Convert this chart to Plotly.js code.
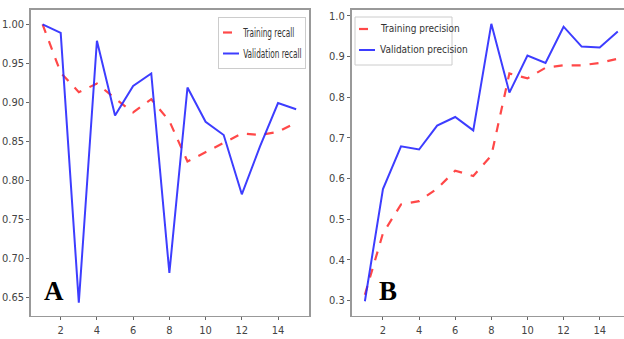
<!DOCTYPE html>
<html><head><meta charset="utf-8">
<script src="https://cdn.plot.ly/plotly-3.0.1.min.js"></script>
<style>
html,body{margin:0;padding:0;overflow:hidden;background:#fff;width:624px;height:339px}
#chart{width:632px;height:339px}
/* compact matplotlib-like legend for panel A: short sample lines, condensed text */
#chart g.legend .legendlines path{d:path("M4,0h16")}
#chart g.legend text.legendtext{transform:translate(-3px,0) scale(0.68,1)}
#chart g.legend{transform:translate(218px,17px)}
#chart g.legend rect.bg{width:87px}
</style>
</head><body><div id="chart"></div>
<script>
const epochs = [1,2,3,4,5,6,7,8,9,10,11,12,13,14,15];
const trainRecall = [1.000,0.938,0.913,0.924,0.905,0.887,0.904,0.876,0.824,0.836,0.849,0.860,0.858,0.862,0.874];
const valRecall   = [1.000,0.989,0.643,0.979,0.883,0.921,0.937,0.681,0.919,0.875,0.858,0.782,0.843,0.899,0.891];
const trainPrec   = [0.314,0.465,0.536,0.544,0.575,0.619,0.606,0.656,0.858,0.846,0.872,0.878,0.878,0.884,0.894];
const valPrec     = [0.298,0.574,0.679,0.671,0.730,0.751,0.718,0.980,0.811,0.902,0.884,0.973,0.924,0.922,0.961];
const xTicks = [2,4,6,8,10,12,14];
const yTicksA = [0.65,0.70,0.75,0.80,0.85,0.90,0.95,1.00];
const yTicksB = [0.3,0.4,0.5,0.6,0.7,0.8,0.9,1.0];
const legendNamesB = ['Training precision', 'Validation precision'];

const W = 632, H = 339;
const red = 'rgba(255,40,40,0.85)', blue = 'rgba(40,40,255,0.9)';
const traces = [
  {x: epochs, y: trainRecall, name: 'Training recall', mode: 'lines', line: {color: red, dash: 'dash', width: 2.2}, xaxis: 'x', yaxis: 'y', legendgroup: 'a1', showlegend: true},
  {x: epochs, y: valRecall, name: 'Validation recall', mode: 'lines', line: {color: blue, width: 2}, xaxis: 'x', yaxis: 'y', legendgroup: 'a2', showlegend: true},
  {x: epochs, y: trainPrec, name: legendNamesB[0], mode: 'lines', line: {color: red, dash: 'dash', width: 2.2}, xaxis: 'x2', yaxis: 'y2', showlegend: false},
  {x: epochs, y: valPrec, name: legendNamesB[1], mode: 'lines', line: {color: blue, width: 2}, xaxis: 'x2', yaxis: 'y2', showlegend: false}
];
const condensed = 'Liberation Sans Narrow, DejaVu Sans Condensed, sans-serif';
const tickFont = {family: condensed, size: 11, color: '#444'};
const axisBase = {showline: true, mirror: true, linecolor: '#999', linewidth: 1.8, showgrid: false, zeroline: false,
  ticks: 'outside', ticklen: 3, tickcolor: '#666', tickfont: tickFont};
const yDom = [(H-315.5)/H, (H-10)/H];
const legendFont = {family: condensed, size: 12, color: '#333'};

// panel B legend box (drawn as decoration, same look as panel A's)
const px = v => v / W, py = v => (H - v) / H;
const legB = {left: 355, top: 17, bottom: 65, rows: [29, 50], right: 452};
const shapesB = [
  {type: 'rect', xref: 'paper', yref: 'paper', x0: px(legB.left), x1: px(legB.right), y0: py(legB.bottom), y1: py(legB.top),
   line: {color: '#ccc', width: 1}, fillcolor: '#fff', layer: 'above'},
  {type: 'line', xref: 'paper', yref: 'paper', x0: px(legB.left + 4), x1: px(legB.left + 20), y0: py(legB.rows[0]), y1: py(legB.rows[0]),
   line: {color: red, dash: 'dash', width: 2.2}, layer: 'above'},
  {type: 'line', xref: 'paper', yref: 'paper', x0: px(legB.left + 4), x1: px(legB.left + 20), y0: py(legB.rows[1]), y1: py(legB.rows[1]),
   line: {color: blue, width: 2}, layer: 'above'}
];
const legendAnnB = legendNamesB.map((t, i) => ({
  text: t, xref: 'paper', yref: 'paper', x: px(legB.left + 23), y: py(legB.rows[i]), xanchor: 'left', yanchor: 'middle',
  showarrow: false, font: {family: condensed, size: 10, color: '#333'}
}));

const layout = {
  width: W, height: H, margin: {l: 0, r: 0, t: 0, b: 0},
  paper_bgcolor: '#fff', plot_bgcolor: '#fff', showlegend: true,
  xaxis: Object.assign({}, axisBase, {domain: [31/W, 309/W], range: [0.36, 15.71], tickvals: xTicks, anchor: 'y'}),
  yaxis: Object.assign({}, axisBase, {domain: yDom, range: [0.6265, 1.0184], tickvals: yTicksA, ticktext: yTicksA.map(v => v.toFixed(2)), anchor: 'x'}),
  xaxis2: Object.assign({}, axisBase, {domain: [351.7/W, 630.6/W], range: [0.27, 15.71], tickvals: xTicks, anchor: 'y2'}),
  yaxis2: Object.assign({}, axisBase, {domain: yDom, range: [0.263, 1.014], tickvals: yTicksB, ticktext: yTicksB.map(v => v.toFixed(1)), anchor: 'x2'}),
  legend: {x: 305/W, y: (H-17)/H, xanchor: 'right', yanchor: 'top', bgcolor: '#fff', bordercolor: '#ccc', borderwidth: 1,
    font: legendFont, tracegroupgap: 2, itemwidth: 30},
  shapes: shapesB,
  annotations: [
    {text: '<b>A</b>', xref: 'paper', yref: 'paper', x: 54/W, y: (H-291)/H, xanchor: 'center', yanchor: 'middle', showarrow: false, font: {family: 'Liberation Serif, serif', size: 27, color: '#000'}},
    {text: '<b>B</b>', xref: 'paper', yref: 'paper', x: 388.5/W, y: (H-291)/H, xanchor: 'center', yanchor: 'middle', showarrow: false, font: {family: 'Liberation Serif, serif', size: 27, color: '#000'}}
  ].concat(legendAnnB)
};
Plotly.newPlot('chart', traces, layout, {displayModeBar: false, staticPlot: true});
</script></body></html>
